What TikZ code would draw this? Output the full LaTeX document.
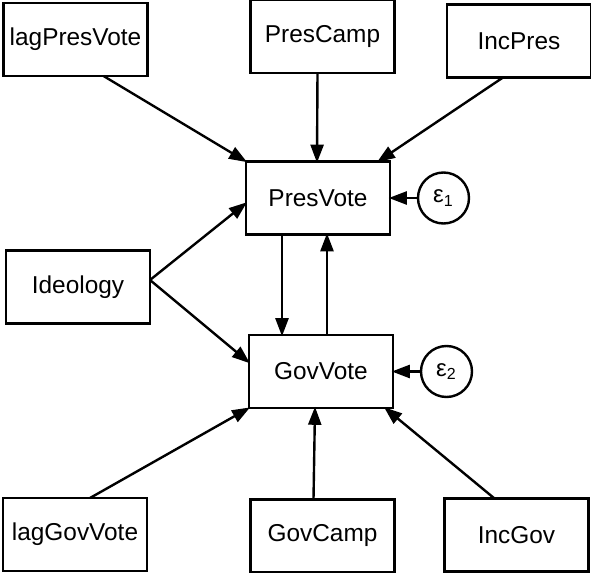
\documentclass[tikz,border=0pt]{standalone}
\usepackage{fontspec}
\setmainfont{Liberation Sans}
\usetikzlibrary{positioning, arrows.meta}

\begin{document}
\begin{tikzpicture}[
    x=0.5pt, y=-0.5pt,
    var/.style={draw, line width=1.2pt, outer sep=0pt, minimum width=72pt, minimum height=36.5pt, inner sep=0pt, font=\fontsize{12.2}{14}\selectfont},
    err/.style={circle, draw, line width=1.2pt, outer sep=0pt, minimum size=25.5pt, inner sep=0pt, font=\fontsize{12}{14}\selectfont},
    edge/.style={line width=1.2pt, shorten >=-0.6pt, -{Triangle[length=9pt, width=6.5pt]}}
  ]
\useasboundingbox (0,0) rectangle (591,573);

% Top row
\node[var] (lagPres) at (75.5,39.5) {lagPresVote};
\node[var] (presCamp) at (322.5,36.5) {PresCamp};
\node[var] (incPres) at (519,41) {IncPres};

% Endogenous variables
\node[var] (presVote) at (318,198) {PresVote};
\node[var] (govVote) at (321,371.5) {GovVote};
\node[var] (ideo) at (78,287) {Ideology};

% Error terms
\node[err, right=14pt of presVote] (e1) {ε\textsubscript{1}};
\node[err, right=14pt of govVote] (e2) {ε\textsubscript{2}};

% Bottom row
\node[var] (lagGov) at (75,534.5) {lagGovVote};
\node[var] (govCamp) at (322.5,536) {GovCamp};
\node[var] (incGov) at (516.5,535) {IncGov};

% Paths into PresVote
\draw[edge] ([xshift=14pt]lagPres.south) -- (presVote.north west);
\draw[edge] ([xshift=-2.5pt]presCamp.south) -- ([xshift=-0.5pt]presVote.north);
\draw[edge] ([xshift=-8pt]incPres.south) -- ([xshift=-6pt]presVote.north east);
\draw[edge] ([yshift=3.5pt]ideo.east) -- ([yshift=-2.5pt]presVote.west);
\draw[edge] (e1) -- (presVote);

% Paths into GovVote
\draw[edge] ([xshift=7.5pt]lagGov.north) -- (govVote.south west);
\draw[edge] ([xshift=-4.5pt]govCamp.north) -- ([xshift=-3pt]govVote.south);
\draw[edge] ([xshift=-11pt]incGov.north) -- ([xshift=-4pt]govVote.south east);
\draw[edge] ([yshift=3.5pt]ideo.east) -- ([yshift=4.5pt]govVote.west);
\draw[edge] (e2) -- (govVote);

% Reciprocal paths
\draw[edge] ([xshift=-18pt]presVote.south) -- ([xshift=-18pt]presVote.south |- govVote.north);
\draw[edge] ([xshift=3pt]govVote.north) -- ([xshift=3pt]govVote.north |- presVote.south);

\end{tikzpicture}
\end{document}
